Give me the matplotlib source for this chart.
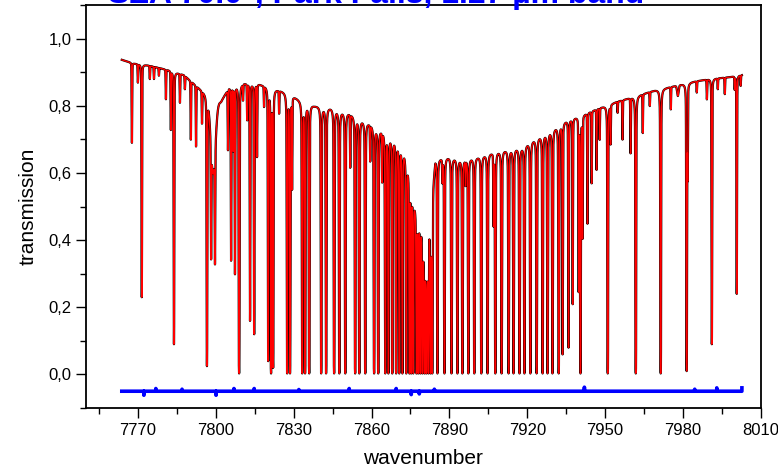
import numpy as np
import matplotlib
matplotlib.use("Agg")
import matplotlib.pyplot as plt
from matplotlib.ticker import MultipleLocator, FuncFormatter

plt.rcParams['font.family'] = ['Liberation Sans', 'DejaVu Sans']

# ---- data ----
title_text = "SZA 70.0°, Park Falls, 1.27 µm band"

# continuum tops (wavenumber, transmission)
cont_wn = [7763.8, 7768.5, 7774.2, 7782.0, 7787.7, 7792.8, 7795.5, 7797.0, 7802.0,
           7805.1, 7810.9, 7816.7, 7822.5, 7828.3, 7832.1, 7837.9, 7844.5, 7851.4,
           7858.4, 7864.1, 7870.7, 7872.6, 7874.6, 7877.3, 7879.2, 7880.4, 7881.5,
           7882.3, 7883.1, 7883.8, 7884.6, 7890.0, 7895.0, 7900.8, 7906.2, 7911.2,
           7917.8, 7922.0, 7928.6, 7935.1, 7941.3, 7947.9, 7954.4, 7960.6, 7969.1,
           7976.8, 7983.4, 7989.5, 7997.3, 8002.7]
cont_T = [0.937, 0.926, 0.92, 0.906, 0.892, 0.858, 0.84, 0.83, 0.815,
          0.855, 0.868, 0.865, 0.852, 0.838, 0.82, 0.802, 0.796, 0.78,
          0.752, 0.728, 0.70, 0.67, 0.61, 0.49, 0.46, 0.33, 0.30,
          0.45, 0.40, 0.58, 0.645, 0.65, 0.643, 0.65, 0.662, 0.67,
          0.68, 0.70, 0.728, 0.757, 0.774, 0.794, 0.812, 0.826, 0.846,
          0.859, 0.871, 0.879, 0.885, 0.892]

# absorption lines: centre (wavenumber), minimum transmission
line_wn = [7767.7, 7770.0, 7771.5, 7774.6, 7776.2, 7778.1, 7780.8, 7782.7, 7783.9,
           7786.2, 7788.1, 7790.4, 7792.4, 7794.7, 7796.6, 7798.2, 7799.7, 7799.0,
           7804.7, 7805.9, 7806.7, 7807.4, 7809.0, 7810.5, 7812.1, 7813.2, 7814.8,
           7815.9, 7818.6, 7820.2, 7821.3, 7822.1, 7824.4, 7827.5, 7828.6, 7829.4,
           7833.3, 7834.4, 7836.0, 7840.6, 7842.5, 7845.6, 7847.6, 7849.9, 7851.8,
           7853.7, 7855.3, 7857.6, 7859.5, 7861.0, 7862.6, 7864.1, 7865.3, 7866.5,
           7868.0, 7869.5, 7870.7, 7871.9, 7873.4, 7874.6, 7875.3, 7876.1, 7877.3,
           7878.0, 7878.8, 7879.6, 7880.4, 7881.1, 7881.9, 7882.7, 7883.4,
           7885.4, 7887.3, 7888.1, 7890.8, 7893.1, 7895.0, 7896.2, 7897.3, 7899.6,
           7902.3, 7904.7, 7907.0, 7907.7, 7910.1, 7912.8, 7914.7, 7917.0, 7918.9,
           7921.2, 7923.6, 7925.9, 7927.8, 7929.7, 7932.1, 7933.6, 7935.9, 7937.5,
           7939.8, 7940.5, 7941.3, 7943.2, 7944.8, 7946.7, 7947.9, 7951.0, 7952.1,
           7954.8, 7956.7, 7959.8, 7961.8, 7964.5, 7967.2, 7971.4, 7975.3, 7978.0,
           7981.4, 7981.8, 7985.3, 7989.2, 7991.1, 7993.4, 7996.1, 7999.9, 8000.7,
           8002.2]
line_min = [0.69, 0.87, 0.23, 0.88, 0.88, 0.89, 0.82, 0.73, 0.09,
            0.81, 0.85, 0.70, 0.68, 0.75, 0.025, 0.42, 0.41, 0.60,
            0.67, 0.34, 0.67, 0.30, 0.0, 0.82, 0.76, 0.16, 0.12,
            0.65, 0.80, 0.04, 0.0, 0.02, 0.78, 0.0, 0.0, 0.56,
            0.0, 0.0, 0.0, 0.0, 0.0, 0.0, 0.0, 0.0, 0.62,
            0.0, 0.0, 0.0, 0.64, 0.0, 0.0, 0.58, 0.0, 0.0,
            0.0, 0.0, 0.0, 0.0, 0.0, 0.0, 0.0, 0.0, 0.0,
            0.0, 0.0, 0.0, 0.0, 0.0, 0.0, 0.0, 0.0,
            0.0, 0.58, 0.0, 0.0, 0.0, 0.0, 0.57, 0.0, 0.0,
            0.0, 0.0, 0.45, 0.0, 0.0, 0.0, 0.0, 0.0, 0.0,
            0.0, 0.0, 0.0, 0.0, 0.0, 0.0, 0.06, 0.08, 0.21,
            0.25, 0.0, 0.41, 0.45, 0.57, 0.61, 0.70, 0.0, 0.69,
            0.78, 0.70, 0.66, 0.0, 0.72, 0.80, 0.0, 0.79, 0.83,
            0.01, 0.60, 0.84, 0.82, 0.09, 0.85, 0.835, 0.85, 0.24,
            0.86]
line_hw = [0.13] * len(line_wn)
line_hw[17] = 1.2     # broad feature near 7799
line_hw[115] = 0.4    # broad component near 7982

# residual (observed - calculated): baseline and spikes
resid_base = -0.05
spike_wn = [7772.3, 7776.9, 7787.0, 7800.1, 7807.0, 7814.8, 7832.0, 7851.4,
            7869.5, 7875.3, 7878.4, 7884.2, 7942.0, 7984.5, 7993.0, 8002.7]
spike_val = [-0.012, 0.008, 0.006, -0.012, 0.008, 0.008, 0.005, 0.008,
             0.008, -0.010, -0.008, 0.006, 0.012, 0.006, 0.010, 0.010]

# ---- build spectrum ----
wn = np.arange(cont_wn[0], cont_wn[-1], 0.01)
cont = np.interp(wn, cont_wn, cont_T)
tau = np.zeros_like(wn)
for c, m, g in zip(line_wn, line_min, line_hw):
    cc = np.interp(c, cont_wn, cont_T)
    mm = max(m, 0.003)
    if mm >= cc:
        continue
    t0 = np.log(cc / mm)
    x = (wn - c) / g
    tau += t0 * (0.85 * np.exp(-x**2) + 0.15 / (1 + (x / 0.8)**2))
spec = cont * np.exp(-tau)

resid = np.full_like(wn, resid_base)
for s, v in zip(spike_wn, spike_val):
    i = np.argmin(np.abs(wn - s))
    resid[i:i+2] = resid_base + v

# ---- plot ----
fig = plt.figure(figsize=(7.78, 4.73), dpi=100)
ax = fig.add_axes([0.1105, 0.1374, 0.8675, 0.852])
ax.plot(wn, spec, color='black', lw=1.6, zorder=2)
ax.plot(wn, spec, color='#ff0000', lw=1.0, zorder=3)
ax.plot(wn, resid, color='#0000ff', lw=2.6, zorder=3)

ax.set_xlim(7750, 8010)
ax.set_ylim(-0.1, 1.1)
ax.xaxis.set_minor_locator(MultipleLocator(15))
ax.yaxis.set_major_locator(MultipleLocator(0.2))
ax.yaxis.set_minor_locator(MultipleLocator(0.1))
ax.set_xticks([7770, 7800, 7830, 7860, 7890, 7920, 7950, 7980, 8010])
ax.yaxis.set_major_formatter(FuncFormatter(lambda v, p: f"{v:.1f}".replace('.', ',')))
ax.tick_params(axis='both', which='major', direction='out', length=7, width=1, labelsize=12)
ax.tick_params(axis='both', which='minor', direction='out', length=4, width=1)
ax.tick_params(top=False, right=False)
for sp in ax.spines.values():
    sp.set_linewidth(1.3)
ax.set_xlabel("wavenumber", fontsize=15, labelpad=8)
ax.set_ylabel("transmission", fontsize=15, labelpad=8)

fig.text(0.483, 0.9937, title_text, color='#0000ff', fontsize=23, fontweight='bold',
         ha='center', va='baseline')

fig.savefig("out.png", dpi=100)
